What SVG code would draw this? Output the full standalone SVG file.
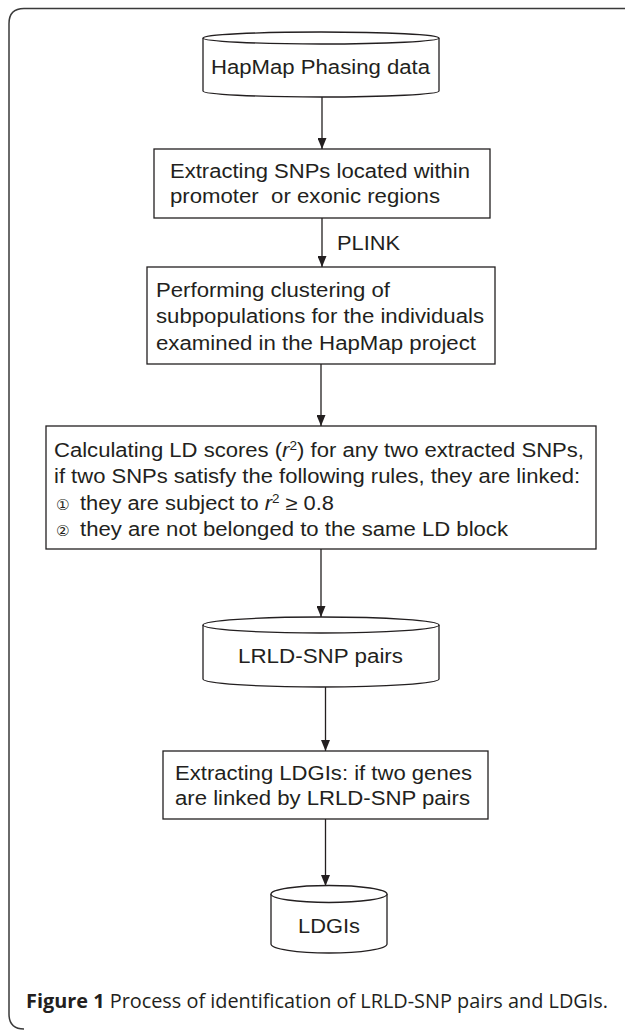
<svg xmlns="http://www.w3.org/2000/svg" width="625" height="1030" viewBox="0 0 625 1030">
<style>
.frame{fill:none;stroke:#3a3a3a;stroke-width:1.5}
.box{fill:#fff;stroke:#231f20;stroke-width:1.3}
.edge{fill:none;stroke:#231f20;stroke-width:1.3}
.t{font-family:"Liberation Sans",Arial,sans-serif;font-size:19.5px;fill:#231f20}
.cd{font-family:"DejaVu Sans",sans-serif;font-size:15px}
.cap{font-family:"Open Sans","Liberation Sans",sans-serif;font-size:20px;fill:#231f20}
</style>
<defs>
<marker id="ah" markerUnits="userSpaceOnUse" markerWidth="11" markerHeight="9" refX="11" refY="4.5" orient="auto" viewBox="0 0 11 9">
<path d="M0,0 L11,4.5 L0,9 z" fill="#231f20"/>
</marker>
</defs>
<rect width="625" height="1030" fill="#fff"/>
<path class="frame" d="M625,8.5 L24,8.5 Q9,8.5 9,23.5 L9,1014 Q9,1029 24,1029"/>
<g id="connectors">
<line class="edge" x1="322" y1="97" x2="322" y2="149" marker-end="url(#ah)"/>
<line class="edge" x1="322" y1="218" x2="322" y2="267" marker-end="url(#ah)"/>
<line class="edge" x1="321" y1="364" x2="321" y2="426" marker-end="url(#ah)"/>
<line class="edge" x1="321" y1="549" x2="321" y2="617" marker-end="url(#ah)"/>
<line class="edge" x1="325.5" y1="687" x2="325.5" y2="751" marker-end="url(#ah)"/>
<line class="edge" x1="325.5" y1="819" x2="325.5" y2="886" marker-end="url(#ah)"/>
<text class="t" x="337" y="250" textLength="63" lengthAdjust="spacingAndGlyphs">PLINK</text>
</g>
<g id="hapmap">
<path class="box" d="M203,38 L203,91 A118,6 0 0 0 439,91 L439,38"/>
<ellipse class="box" cx="321" cy="38" rx="118" ry="6"/>
<text class="t" x="211" y="74" textLength="219" lengthAdjust="spacingAndGlyphs">HapMap Phasing data</text>
</g>
<g id="extract-snps">
<rect class="box" x="154" y="149" width="336" height="69"/>
<text class="t" x="170" y="178" textLength="300" lengthAdjust="spacingAndGlyphs">Extracting SNPs located within</text>
<text class="t" x="170" y="203" textLength="270" lengthAdjust="spacingAndGlyphs" xml:space="preserve">promoter  or exonic regions</text>
</g>
<g id="clustering">
<rect class="box" x="147" y="267" width="348" height="97"/>
<text class="t" x="156" y="297" textLength="234" lengthAdjust="spacingAndGlyphs">Performing clustering of</text>
<text class="t" x="156" y="323" textLength="328" lengthAdjust="spacingAndGlyphs">subpopulations for the individuals</text>
<text class="t" x="156" y="350" textLength="320" lengthAdjust="spacingAndGlyphs">examined in the HapMap project</text>
</g>
<g id="ld-scores">
<rect class="box" x="46" y="426" width="550" height="123"/>
<text class="t" x="54" y="457" textLength="530" lengthAdjust="spacingAndGlyphs">Calculating LD scores (<tspan font-style="italic">r</tspan><tspan font-size="12" dy="-7">2</tspan><tspan dy="7">) for any two extracted SNPs,</tspan></text>
<text class="t" x="54" y="483" textLength="526" lengthAdjust="spacingAndGlyphs">if two SNPs satisfy the following rules, they are linked:</text>
<text class="t cd" x="56" y="510">①</text>
<text class="t" x="80" y="510" textLength="254" lengthAdjust="spacingAndGlyphs">they are subject to <tspan font-style="italic">r</tspan><tspan font-size="12" dy="-7">2</tspan><tspan dy="7"> ≥ 0.8</tspan></text>
<text class="t cd" x="56" y="536">②</text>
<text class="t" x="80" y="536" textLength="428" lengthAdjust="spacingAndGlyphs">they are not belonged to the same LD block</text>
</g>
<g id="lrld-pairs">
<path class="box" d="M203,625 L203,679 A118,8 0 0 0 439,679 L439,625"/>
<ellipse class="box" cx="321" cy="625" rx="118" ry="8"/>
<text class="t" x="238" y="663" textLength="165" lengthAdjust="spacingAndGlyphs">LRLD-SNP pairs</text>
</g>
<g id="extract-ldgis">
<rect class="box" x="163" y="751" width="325" height="68"/>
<text class="t" x="175" y="780" textLength="297" lengthAdjust="spacingAndGlyphs">Extracting LDGIs: if two genes</text>
<text class="t" x="175" y="805" textLength="295" lengthAdjust="spacingAndGlyphs">are linked by LRLD-SNP pairs</text>
</g>
<g id="ldgis">
<path class="box" d="M271,894 L271,944 A58,9 0 0 0 387,944 L387,894"/>
<ellipse class="box" cx="329" cy="894" rx="58" ry="8.5"/>
<text class="t" x="298" y="933" textLength="62" lengthAdjust="spacingAndGlyphs">LDGIs</text>
</g>
<text class="cap" x="26" y="1008" textLength="582" lengthAdjust="spacingAndGlyphs"><tspan font-weight="bold">Figure 1</tspan> Process of identification of LRLD-SNP pairs and LDGIs.</text>
</svg>
